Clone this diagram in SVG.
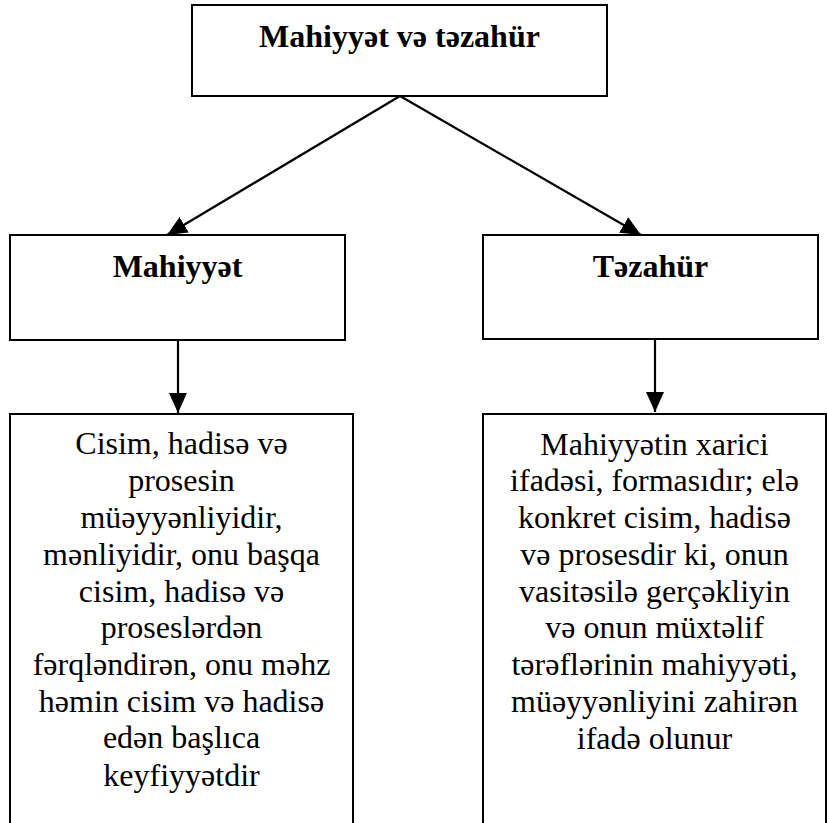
<svg xmlns="http://www.w3.org/2000/svg" width="827" height="823" viewBox="0 0 827 823">
<defs>
<marker id="ah" markerUnits="userSpaceOnUse" markerWidth="22" markerHeight="18" refX="20" refY="9" orient="auto">
<path d="M0,0 L20,9 L0,18 Z" fill="#000"/>
</marker>
<style>
.box{fill:#fff;stroke:#000;stroke-width:2}
.hd{font-family:"Liberation Serif","Times New Roman",serif;font-weight:bold;font-size:32px;text-anchor:middle;fill:#000}
.tx{font-family:"Liberation Serif","Times New Roman",serif;font-size:32px;text-anchor:middle;fill:#000}
.cn{stroke:#000;stroke-width:2.2;fill:none;marker-end:url(#ah)}
</style>
</defs>
<rect width="827" height="823" fill="#fff"/>
<g id="top">
<rect class="box" x="192" y="5" width="415" height="91"/>
<text class="hd" x="399.5" y="47">Mahiyyət və təzahür</text>
</g>
<g id="mahiyyet">
<rect class="box" x="10" y="235" width="335" height="105"/>
<text class="hd" x="177.5" y="277">Mahiyyət</text>
</g>
<g id="tezahur">
<rect class="box" x="483" y="235" width="335" height="104"/>
<text class="hd" x="650.5" y="277">Təzahür</text>
</g>
<g id="mahiyyet-desc">
<rect class="box" x="10" y="414" width="343" height="420"/>
<text class="tx" x="181.5" y="454">Cisim, hadisə və</text>
<text class="tx" x="181.5" y="491">prosesin</text>
<text class="tx" x="181.5" y="528">müəyyənliyidir,</text>
<text class="tx" x="181.5" y="565">mənliyidir, onu başqa</text>
<text class="tx" x="181.5" y="602">cisim, hadisə və</text>
<text class="tx" x="181.5" y="638">proseslərdən</text>
<text class="tx" x="181.5" y="675">fərqləndirən, onu məhz</text>
<text class="tx" x="181.5" y="712">həmin cisim və hadisə</text>
<text class="tx" x="181.5" y="748">edən başlıca</text>
<text class="tx" x="181.5" y="786">keyfiyyətdir</text>
</g>
<g id="tezahur-desc">
<rect class="box" x="483" y="414" width="343" height="420"/>
<text class="tx" x="654.5" y="455">Mahiyyətin xarici</text>
<text class="tx" x="654.5" y="491">ifadəsi, formasıdır; elə</text>
<text class="tx" x="654.5" y="528">konkret cisim, hadisə</text>
<text class="tx" x="654.5" y="565">və prosesdir ki, onun</text>
<text class="tx" x="654.5" y="602">vasitəsilə gerçəkliyin</text>
<text class="tx" x="654.5" y="638">və onun müxtəlif</text>
<text class="tx" x="654.5" y="675">tərəflərinin mahiyyəti,</text>
<text class="tx" x="654.5" y="712">müəyyənliyini zahirən</text>
<text class="tx" x="654.5" y="749">ifadə olunur</text>
</g>
<g id="connectors">
<line class="cn" x1="400" y1="96" x2="167" y2="235"/>
<line class="cn" x1="400" y1="96" x2="641" y2="235"/>
<line class="cn" x1="178" y1="340" x2="178" y2="413"/>
<line class="cn" x1="655" y1="339" x2="655" y2="412"/>
</g>
</svg>
